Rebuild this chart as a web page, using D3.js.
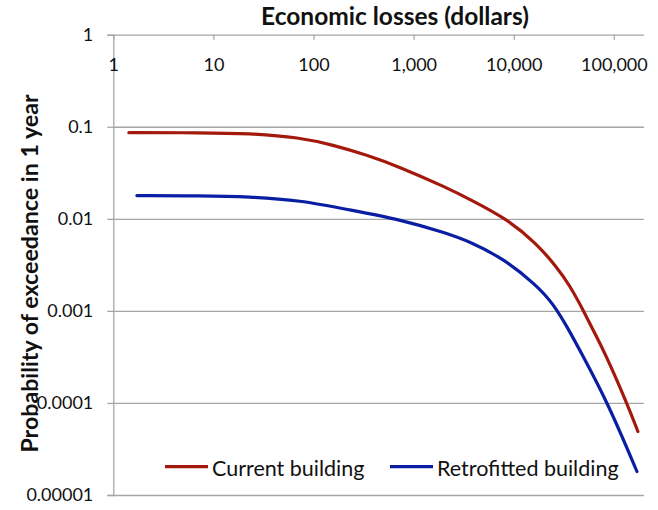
<!DOCTYPE html>
<html>
<head>
<meta charset="utf-8">
<script src="https://cdn.jsdelivr.net/npm/d3@7"></script>
<style>
  html, body { margin: 0; padding: 0; background: #fff; }
  svg { display: block; font-family: Lato, "Open Sans", sans-serif; }
</style>
</head>
<body>
<svg id="chart" width="658" height="510"></svg>
<script>
// ---- data ----
const xTicks = [1, 10, 100, 1000, 10000, 100000];
const xTickLabels = ["1", "10", "100", "1,000", "10,000", "100,000"];
const yTicks = [0.00001, 0.0001, 0.001, 0.01, 0.1, 1];
const yTickLabels = ["0.00001", "0.0001", "0.001", "0.01", "0.1", "1"];

const seriesNames = ["Current building", "Retrofitted building"];

const currentLoss = [1.43, 7.3, 23, 73, 156, 340, 727, 2140, 3630, 8550, 16810, 26600, 36100, 49850, 61700, 78900, 134900, 173800];
const currentProb = [0.0863, 0.0862, 0.085, 0.0765, 0.0634, 0.0494, 0.0366, 0.0218, 0.01633, 0.0100, 0.00543, 0.00303, 0.00191, 0.00100, 0.000622, 0.000377, 0.000100, 0.0000489];

const retroLoss = [1.72, 7.3, 23, 73, 230, 727, 2140, 3630, 7800, 16810, 24600, 34750, 45500, 87100, 170000];
const retroProb = [0.0179, 0.0178, 0.0174, 0.0159, 0.0125, 0.00985, 0.00698, 0.00565, 0.00373, 0.00191, 0.00121, 0.000649, 0.000377, 0.000100, 0.000018];

// ---- layout ----
const svg = d3.select("#chart");
const mLeft = 113.3, mRight = 644, mTop = 34.7, mBottom = 495;
const x = d3.scaleLog().domain([1, 200000]).range([mLeft, mRight]);
const y = d3.scaleLog().domain([0.00001, 1]).range([mBottom, mTop]);

const gridColor = "#a6a6a6";

// horizontal gridlines (+ left ticks)
const yAxis = d3.axisLeft(y).tickValues(yTicks).tickSize(6).tickPadding(14)
  .tickFormat((d, i) => yTickLabels[i]);
const gy = svg.append("g").attr("transform", `translate(${mLeft},0)`).call(yAxis);
gy.select(".domain").attr("stroke", gridColor).attr("stroke-width", 1.3);
gy.selectAll(".tick line").attr("stroke", gridColor).attr("stroke-width", 1.3);
gy.selectAll(".tick text").attr("fill", "#111").style("font-size", "18px")
  .style("font-family", "Lato, sans-serif");
gy.selectAll(".tick").append("line")
  .attr("x1", 0).attr("x2", mRight - mLeft)
  .attr("stroke", gridColor).attr("stroke-width", 1.3);

// x axis along the top (labels inside plot)
const xAxis = d3.axisBottom(x).tickValues(xTicks).tickSize(5).tickPadding(19)
  .tickFormat((d, i) => xTickLabels[i]);
const gx = svg.append("g").attr("transform", `translate(0,${mTop})`).call(xAxis);
gx.select(".domain").remove();
gx.selectAll(".tick line").attr("stroke", gridColor).attr("stroke-width", 1.3);
gx.selectAll(".tick text").attr("fill", "#111").style("font-size", "18px")
  .style("font-family", "Lato, sans-serif");

// titles
svg.append("text").attr("x", 395).attr("y", 25).attr("text-anchor", "middle")
  .style("font-size", "24.5px").style("font-weight", "bold").attr("fill", "#111")
  .text("Economic losses (dollars)");
svg.append("text")
  .attr("transform", "translate(37.5,273.5) rotate(-90)")
  .attr("text-anchor", "middle")
  .style("font-size", "23.2px").style("font-weight", "bold").attr("fill", "#111")
  .text("Probability of exceedance in 1 year");

// lines
const line = d3.line().x(d => x(d[0])).y(d => y(d[1])).curve(d3.curveBasis);
const colors = ["#a31a0c", "#0a1ea3"];
const series = [
  d3.zip(currentLoss, currentProb),
  d3.zip(retroLoss, retroProb)
];
series.forEach((s, i) => {
  svg.append("path").datum(s).attr("d", line)
    .attr("fill", "none").attr("stroke", colors[i]).attr("stroke-width", 3.2)
    .attr("stroke-linecap", "round");
});

// legend
const legendItems = [
  { x1: 165, x2: 208, tx: 212 },
  { x1: 390, x2: 433, tx: 437 }
];
legendItems.forEach((l, i) => {
  svg.append("line").attr("x1", l.x1).attr("x2", l.x2).attr("y1", 466.7).attr("y2", 466.7)
    .attr("stroke", colors[i]).attr("stroke-width", 3.2);
  svg.append("text").attr("x", l.tx).attr("y", 476).style("font-size", "21.5px")
    .attr("fill", "#111").text(seriesNames[i]);
});
</script>
</body>
</html>
